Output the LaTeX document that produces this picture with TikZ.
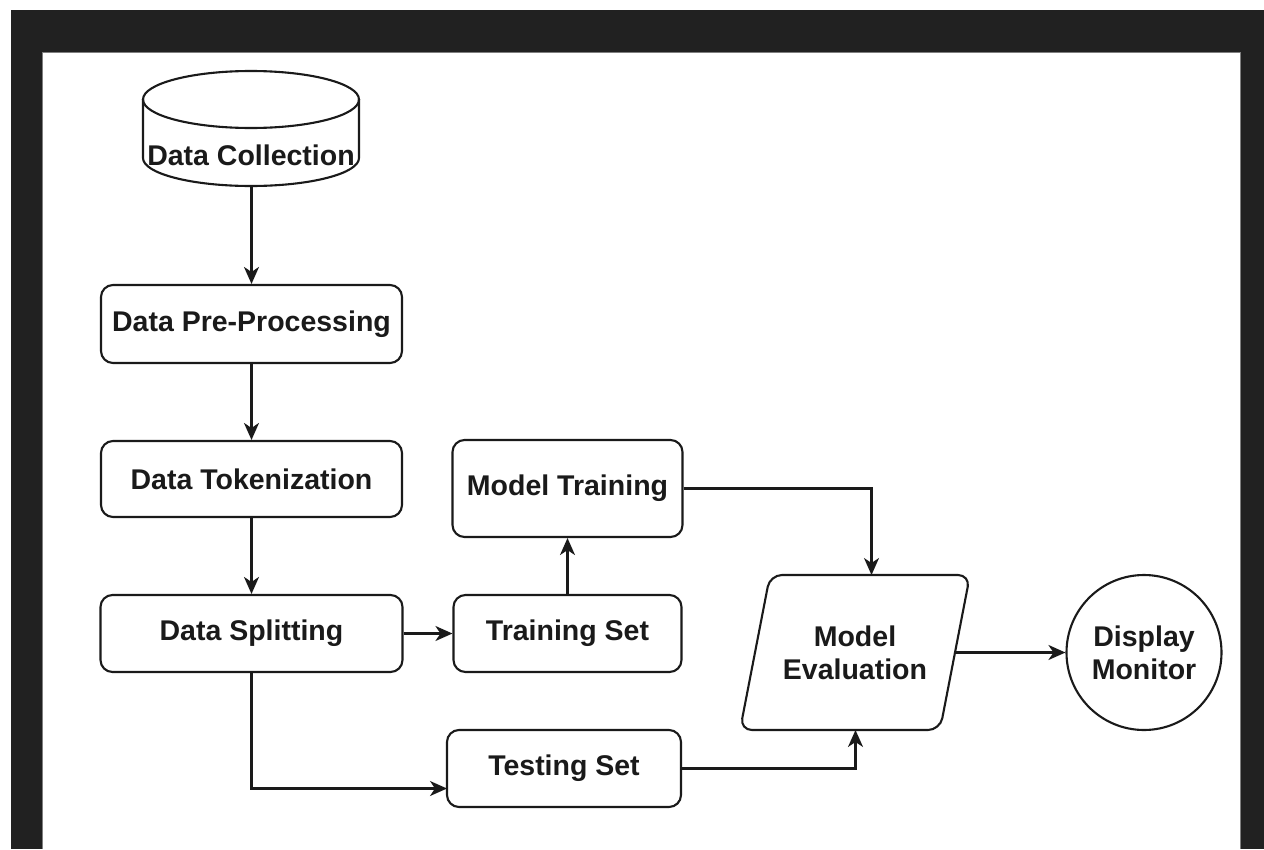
\documentclass[tikz,border=0pt]{standalone}
\usepackage{fontspec}
\setmainfont{Liberation Sans}
\usetikzlibrary{arrows.meta}

\definecolor{ink}{HTML}{1A1A1A}
\definecolor{framedark}{HTML}{212121}
\definecolor{frameedge}{HTML}{7F7F7F}

\tikzset{
  lbl/.style={font=\fontsize{28.5}{33}\selectfont\bfseries, text=ink, align=center},
  stepbox/.style={lbl, draw=ink, line width=2.1pt, rounded corners=12pt,
    fill=white, inner sep=0pt},
  outline/.style={draw=ink, line width=2.1pt},
  flow/.style={draw=ink, line width=2.1pt,
    -{Stealth[length=17pt,width=15pt,inset=5pt]}},
}

\begin{document}
\begin{tikzpicture}[x=1pt,y=-1pt]
  % canvas and dark frame
  \useasboundingbox (0,0) rectangle (1264,849);
  \fill[white] (0,0) rectangle (1264,849);
  \fill[framedark] (11,10) rectangle (1264,849);
  \fill[white] (42,52) rectangle (1240,849);
  \draw[frameedge, line width=1pt] (42,849) -- (42,52) -- (1240,52) -- (1240,849);

  % data store (cylinder)
  \draw[outline, fill=white] (143,99) -- (143,158)
     arc[start angle=180, end angle=360, x radius=108pt, y radius=28pt] -- (359,99);
  \draw[outline] (251,99.5) ellipse[x radius=108pt, y radius=28.5pt];
  \node[lbl] (coll) at (251,155) {Data Collection};
  \coordinate (collB) at (251.5,186);

  % processing steps
  \node[stepbox, minimum width=301pt, minimum height=78pt] (pre)   at (251.5,324)   {Data Pre-Processing};
  \node[stepbox, minimum width=301pt, minimum height=76pt] (tok)   at (251.5,479)   {Data Tokenization};
  \node[stepbox, minimum width=302pt, minimum height=77pt] (split) at (251.5,633.5) {Data Splitting};
  \node[stepbox, minimum width=228pt, minimum height=77pt] (train) at (567.5,633.5) {Training Set};
  \node[stepbox, minimum width=230pt, minimum height=97pt] (model) at (567.5,488.5) {Model Training};
  \node[stepbox, minimum width=234pt, minimum height=77pt] (test)  at (564,768.5)   {Testing Set};

  % evaluation (rounded parallelogram)
  \draw[outline, fill=white, rounded corners=12pt]
    (740,730) -- (770,575) -- (970,575) -- (940,730) -- cycle;
  \node[lbl, minimum width=200pt, minimum height=155pt] (eval) at (855,652.5) {Model\\Evaluation};
  \coordinate (evalT) at (871.5,575);
  \coordinate (evalB) at (855.5,730);
  \coordinate (evalR) at (955,652.5);

  % output
  \node[lbl, draw=ink, line width=2.1pt, circle, minimum size=155pt, inner sep=0pt]
    (disp) at (1144,652.5) {Display\\Monitor};

  \coordinate (testL) at (447,788.5);

  % connectors
  \draw[flow] (collB) -- (pre.north);
  \draw[flow] (pre.south) -- (tok.north);
  \draw[flow] (tok.south) -- (split.north);
  \draw[flow] (split.east) -- (train.west);
  \draw[flow] (train.north) -- (model.south);
  \draw[flow] (model.east) -| (evalT);
  \draw[flow] (split.south) |- (testL);
  \draw[flow] (test.east) -| (evalB);
  \draw[flow] (evalR) -- (disp.west);
\end{tikzpicture}
\end{document}
